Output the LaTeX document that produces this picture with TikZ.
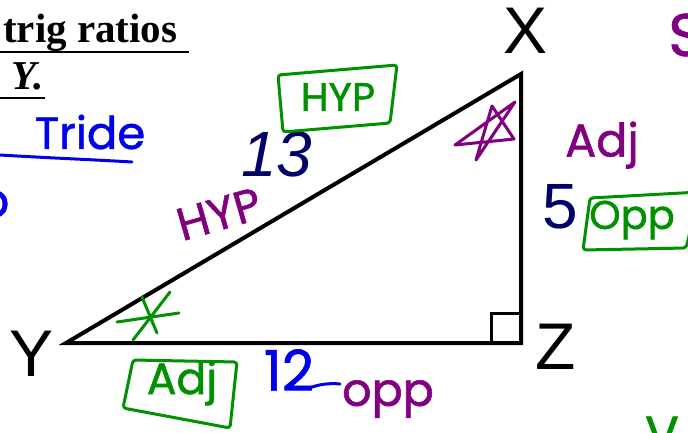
\documentclass[tikz,border=0pt]{standalone}
\usepackage{fontspec}
\setmainfont{Liberation Serif}
\newfontfamily\lsans{Liberation Sans}
\newfontfamily\hand[FakeBold=1.2]{Poppins}
\definecolor{navy}{RGB}{0,0,102}
\definecolor{pen purple}{RGB}{128,0,128}
\definecolor{pen green}{RGB}{0,145,0}
\definecolor{pen blue}{RGB}{0,0,235}
\tikzset{
  vlabel/.style={inner sep=0pt, font=\lsans\fontsize{66}{66}\selectfont},
  side/.style={inner sep=0pt, text=navy},
  handtext/.style={inner sep=0pt},
  stroke/.style={line width=3pt, line cap=round, line join=round},
  penbox/.style={stroke, pen green, rounded corners=3pt},
}
\begin{document}
\begin{tikzpicture}[x=1pt,y=-1pt]
\useasboundingbox (0,0) rectangle (688,432);
\clip (0,0) rectangle (688,432);

% printed heading
\node[anchor=base west, inner sep=0pt, font=\fontsize{41}{41}\selectfont\bfseries] (title) at (3,42) {trig ratios};
\draw[line width=2pt] (0,52) -- (189,52);
\node[anchor=base west, inner sep=0pt, font=\fontsize{41}{41}\selectfont\bfseries\itshape] (ang) at (11,89) {Y.};
\draw[line width=2pt] (0,98) -- (45,98);

% triangle
\coordinate (Y) at (66,343);
\coordinate (X) at (521,74);
\coordinate (Z) at (521,343);
\draw[line width=4pt, line join=miter] (Y) -- (X) -- (Z) -- cycle;
\draw[line width=3pt] (491,343) -- (491,313) -- (521,313);

\node[vlabel] (lx) at (526,31) {X};
\node[vlabel] (ly) at (32,354) {Y};
\node[vlabel] (lz) at (556,347) {Z};

\node[side, font=\lsans\itshape\fontsize{64}{64}\selectfont] (s13) at (277,154) {13};
\node[side, font=\lsans\fontsize{64}{64}\selectfont] (s5) at (560,207) {5};

% blue annotations
\node[handtext, text=pen blue, font=\hand\fontsize{45}{45}\selectfont] (tride) at (90,132) {Tride};
\draw[stroke, pen blue] (0,155) .. controls (50,158) and (100,160) .. (132,162);
\node[handtext, text=pen blue, font=\hand\fontsize{48}{48}\selectfont] (lo) at (-6,204) {o};
\node[handtext, text=pen blue, font=\hand\fontsize{56}{56}\selectfont] (n12) at (289,370) {12};
\coordinate (tailA) at (309,388);
\coordinate (tailB) at (340,384);
\draw[stroke, pen blue] (tailA) .. controls (320,384) and (330,383) .. (tailB);

% purple annotations
\node[handtext, text=pen purple, font=\hand\fontsize{46}{46}\selectfont, rotate=16] (hyp1) at (219,214) {HYP};
\node[handtext, text=pen purple, font=\hand\fontsize{46}{46}\selectfont] (adj1) at (602,145) {Adj};
\node[handtext, text=pen purple, font=\hand\fontsize{60}{60}\selectfont] (s) at (686,35) {S};
\node[handtext, text=pen purple, font=\hand\fontsize{46}{46}\selectfont] (opp2) at (388,399) {opp};
\draw[stroke, pen purple] (492,106) -- (514,139) -- (455,145) -- (515,102) -- (476,160) -- cycle;

% green annotations
\node[handtext, text=pen green, font=\hand\fontsize{40}{40}\selectfont] (hyp2) at (338,97) {HYP};
\draw[penbox] (278,75) -- (397,65) -- (390,123) -- (283,132) -- cycle;
\node[handtext, text=pen green, font=\hand\fontsize{40}{40}\selectfont] (opp1) at (632,220) {Opp};
\draw[penbox] (590,198) -- (700,192) -- (686,248) -- (583,250) -- cycle;
\node[handtext, text=pen green, font=\hand\fontsize{44}{44}\selectfont] (adj2) at (182,383) {Adj};
\draw[penbox] (133,360) -- (237,362) -- (230,428) -- (123,408) -- cycle;
\draw[stroke, pen green] (170,292) -- (133,340);
\draw[stroke, pen green] (142,297) -- (157,333);
\draw[stroke, pen green] (117,322) -- (179,313);
\node[handtext, text=pen green, font=\hand\fontsize{50}{50}\selectfont] (v) at (662,434) {V};
\end{tikzpicture}
\end{document}
